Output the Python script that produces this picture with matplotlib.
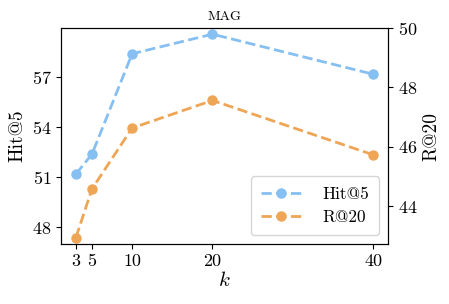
import matplotlib
matplotlib.use("Agg")
import matplotlib.pyplot as plt

# data
k_values = [3, 5, 10, 20, 40]
hit5 = [51.18, 52.37, 58.36, 59.53, 57.14]
r20 = [42.94, 44.58, 46.63, 47.56, 45.73]
hit_ticks = [48, 51, 54, 57]
r_ticks = [44, 46, 48, 50]

plt.rcParams['font.family'] = 'serif'
plt.rcParams['font.serif'] = ['cmr10']
plt.rcParams['mathtext.fontset'] = 'cm'
plt.rcParams['axes.formatter.use_mathtext'] = True

blue = '#86BFF2'
orange = '#EEA656'

fig = plt.figure(figsize=(4.49, 3.04), dpi=100)
ax = fig.add_axes([0.136, 0.197, 0.728, 0.711])
ax2 = ax.twinx()

l1, = ax.plot(k_values, hit5, '--o', color=blue, linewidth=2, markersize=6.5,
              label='Hit@5')
l2, = ax2.plot(k_values, r20, '--o', color=orange, linewidth=2, markersize=6.5,
               label='R@20')

ax.set_ylim(47.0, 59.9)
ax2.set_ylim(42.72, 50.0)
ax.set_yticks(hit_ticks)
ax2.set_yticks(r_ticks)
ax.set_xticks(k_values)
ax.set_xticklabels([str(v) for v in k_values])

ax.tick_params(labelsize=13)
ax2.tick_params(labelsize=13)
ax.set_xlabel(r'$k$', fontsize=15, labelpad=1)
ax.set_ylabel('Hit@5', fontsize=14)
ax2.set_ylabel('R@20', fontsize=14)
ax.set_title('MAG', fontsize=10, pad=6)

ax2.legend([l1, l2], ['Hit@5', 'R@20'], loc='lower right', fontsize=12.5,
           handlelength=2.3, handletextpad=1.2, borderpad=0.6,
           labelspacing=0.45)

fig.savefig('out.png', dpi=100)
